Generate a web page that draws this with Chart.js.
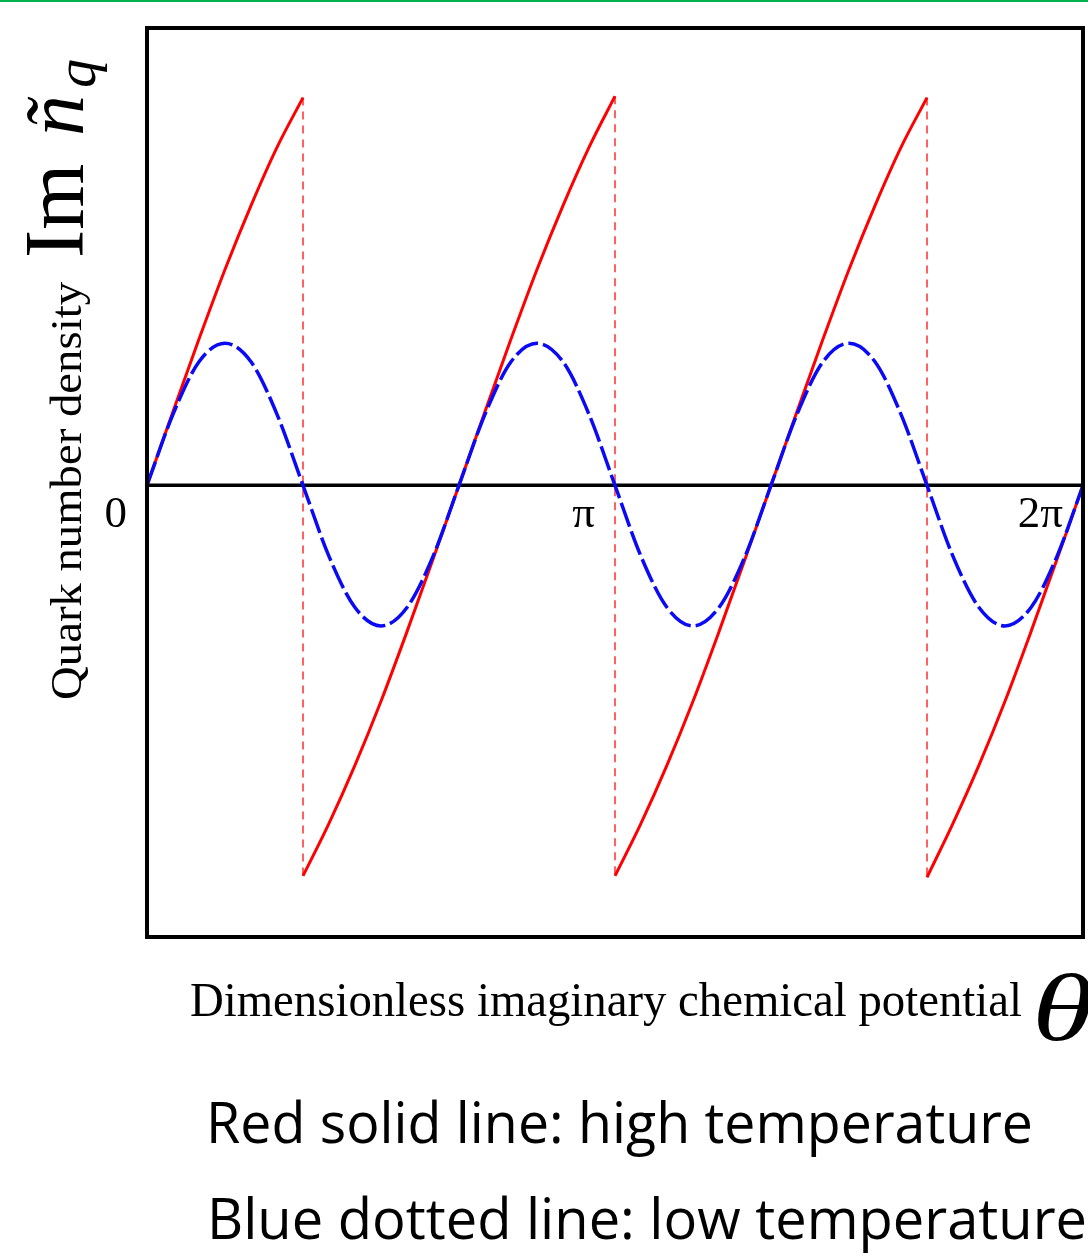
<!DOCTYPE html>
<html>
<head>
<meta charset="utf-8">
<script src="https://cdn.jsdelivr.net/npm/chart.js@4.4.1/dist/chart.umd.min.js"></script>
<style>
  body { margin: 0; background: #fff; }
  #wrap { position: relative; width: 1088px; height: 1258px; overflow: hidden; }
  #topline { position: absolute; left: 0; top: 0; width: 1088px; height: 2px; background: #00b050; }
</style>
</head>
<body>
<div id="wrap">
  <canvas id="myChart" width="1088" height="1258"></canvas>
  <div id="topline"></div>
</div>
<script>
// theta in degrees (0 .. 2pi)
const thetaDeg = [0, 10, 20, 30, 40, 50, 60, 70, 80, 90, 100, 110, 120, 130, 140, 150, 160, 170, 180,
  190, 200, 210, 220, 230, 240, 250, 260, 270, 280, 290, 300, 310, 320, 330, 340, 350, 360];

// blue dashed curve: low temperature
const blueDensity = [0, 0.5, 0.87, 1, 0.87, 0.5, 0, -0.5, -0.86, -0.99, -0.86, -0.5, 0, 0.5, 0.87, 1, 0.87, 0.5, 0,
  -0.5, -0.86, -0.99, -0.86, -0.5, 0, 0.5, 0.87, 1, 0.87, 0.5, 0, -0.5, -0.86, -0.99, -0.86, -0.5, 0];

// red solid curve: high temperature (null = jump)
const redTheta = [0, 10, 20, 30, 40, 50, 60, null,
  60, 70, 80, 90, 100, 110, 120, 130, 140, 150, 160, 170, 180, null,
  180, 190, 200, 210, 220, 230, 240, 250, 260, 270, 280, 290, 300, null,
  300, 310, 320, 330, 340, 350, 360];
const redDensity = [0, 0.52, 1.03, 1.52, 1.97, 2.38, 2.73, null,
  -2.75, -2.38, -1.97, -1.52, -1.03, -0.52, 0, 0.52, 1.03, 1.52, 1.97, 2.38, 2.74, null,
  -2.75, -2.38, -1.97, -1.52, -1.03, -0.52, 0, 0.52, 1.03, 1.52, 1.97, 2.38, 2.73, null,
  -2.76, -2.38, -1.97, -1.52, -1.03, -0.52, 0];

// red dashed vertical jumps
const jumpTheta = [60, 180, 300];
const jumpTop = [2.73, 2.74, 2.73];
const jumpBottom = [-2.75, -2.75, -2.76];

const tickValues = [0, 180, 360];
const tickLabels = ["0", "π", "2π"];

// splits the red curve into its branches
const redBranches = [];
let branch = [];
for (let i = 0; i < redTheta.length; i++) {
  if (redTheta[i] === null) {
    redBranches.push(branch);
    branch = [];
  } else {
    branch.push({ x: redTheta[i], y: redDensity[i] });
  }
}
redBranches.push(branch);

const jumpPoints = [];
for (let i = 0; i < jumpTheta.length; i++) {
  jumpPoints.push({ x: jumpTheta[i], y: jumpTop[i] });
  jumpPoints.push({ x: jumpTheta[i], y: jumpBottom[i] });
  jumpPoints.push({ x: jumpTheta[i], y: null });
}

const datasets = [
  {
    label: "low temperature",
    data: thetaDeg.map((t, i) => ({ x: t, y: blueDensity[i] })),
    borderColor: "#0a0af5",
    borderWidth: 3.5,
    borderDash: [25, 5],
    cubicInterpolationMode: "monotone",
  },
];
redBranches.forEach((b) => {
  datasets.push({
    label: "high temperature",
    data: b,
    borderColor: "#ff0000",
    borderWidth: 3,
    cubicInterpolationMode: "monotone",
  });
});
datasets.push({
  label: "jump",
  data: jumpPoints,
  borderColor: "rgba(255, 70, 70, 0.85)",
  borderWidth: 2,
  borderDash: [8, 6],
  tension: 0,
  spanGaps: false,
});

// scales text to the wanted width
function fitText(ctx, text, x, y, width, font) {
  ctx.font = font;
  const w = ctx.measureText(text).width;
  ctx.save();
  ctx.translate(x, y);
  ctx.scale(width / w, 1);
  ctx.fillText(text, 0, 0);
  ctx.restore();
}

const framePlugin = {
  id: "frame",
  beforeDatasetsDraw(chart) {
    const { ctx, chartArea, scales } = chart;
    const y0 = scales.y.getPixelForValue(0);
    ctx.save();
    ctx.strokeStyle = "#000";
    ctx.lineWidth = 3.5;
    ctx.beginPath();
    ctx.moveTo(chartArea.left, y0);
    ctx.lineTo(chartArea.right, y0);
    ctx.stroke();
    ctx.restore();
  },
  afterDraw(chart) {
    const { ctx, chartArea, scales } = chart;
    ctx.save();
    ctx.strokeStyle = "#000";
    ctx.lineWidth = 4;
    ctx.strokeRect(chartArea.left, chartArea.top, chartArea.right - chartArea.left, chartArea.bottom - chartArea.top);

    ctx.fillStyle = "#000";
    // tick labels
    const y0 = scales.y.getPixelForValue(0);
    ctx.textAlign = "right";
    ctx.textBaseline = "alphabetic";
    ctx.font = "45px 'Liberation Serif'";
    tickValues.forEach((v, i) => {
      ctx.fillText(tickLabels[i], scales.x.getPixelForValue(v) - 20, y0 + 42);
    });
    ctx.textAlign = "left";

    // x title
    fitText(ctx, "Dimensionless imaginary chemical potential", 190, 1016, 832, "48px 'Liberation Serif'");
    fitText(ctx, "θ", 1032, 1040, 62, "italic 96px 'Liberation Serif'");

    // y title
    ctx.save();
    ctx.translate(81, 700);
    ctx.rotate(-Math.PI / 2);
    fitText(ctx, "Quark number density", 0, 0, 418, "44px 'Liberation Serif'");
    ctx.restore();

    ctx.save();
    ctx.translate(83, 258);
    ctx.rotate(-Math.PI / 2);
    ctx.font = "85px 'Liberation Serif'";
    ctx.fillText("Im", 0, 0);
    ctx.font = "italic 82px 'Liberation Serif'";
    ctx.fillText("ñ", 122, 0);
    ctx.font = "italic 58px 'Liberation Serif'";
    ctx.fillText("q", 170, 12);
    ctx.restore();

    // captions
    fitText(ctx, "Red solid line: high temperature", 206, 1143, 827, "56px 'Open Sans'");
    fitText(ctx, "Blue dotted line: low temperature", 207, 1239, 880, "56px 'Open Sans'");
    ctx.restore();
  },
};

const config = {
  type: "line",
  data: { datasets: datasets },
  options: {
    responsive: false,
    animation: false,
    layout: { padding: { left: 147, right: 5, top: 28, bottom: 321 } },
    elements: { point: { radius: 0 } },
    plugins: { legend: false, tooltip: { enabled: false } },
    scales: {
      x: { type: "linear", min: 0, max: 360, display: false },
      y: { type: "linear", min: -3.18, max: 3.22, display: false },
    },
  },
  plugins: [framePlugin],
};

let context = document.getElementById("myChart").getContext("2d");
let chart = new Chart(context, config);
</script>
</body>
</html>
